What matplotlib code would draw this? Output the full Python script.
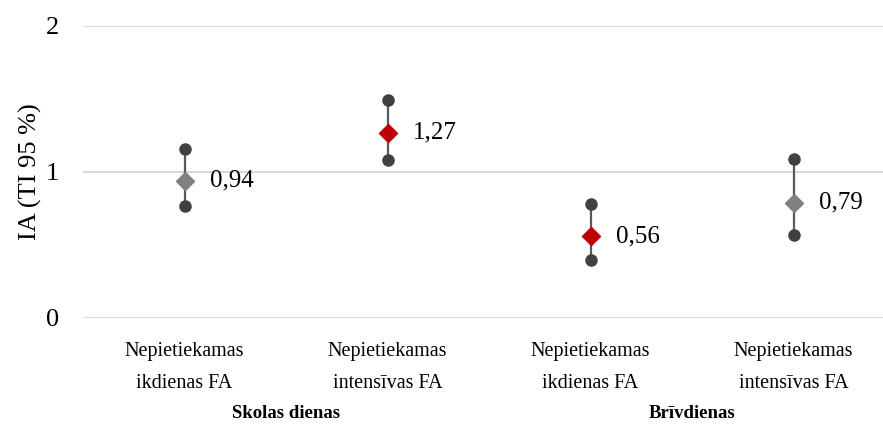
import numpy as np
from matplotlib import pyplot as plt
from matplotlib.transforms import offset_copy

categories = ["Nepietiekamas\nikdienas FA", "Nepietiekamas\nintensīvas FA",
              "Nepietiekamas\nikdienas FA", "Nepietiekamas\nintensīvas FA"]
groups = ["Skolas dienas", "Brīvdienas"]
ia = [0.94, 1.27, 0.56, 0.79]
ci_low = [0.77, 1.08, 0.40, 0.57]
ci_high = [1.16, 1.49, 0.78, 1.09]
point_colors = ["#808080", "#C00000", "#C00000", "#808080"]
labels = ["0,94", "1,27", "0,56", "0,79"]

plt.rcParams["font.family"] = ["Liberation Serif", "DejaVu Serif"]

W, H = 883, 430
fig = plt.figure(figsize=(W / 100, H / 100), dpi=100)
ax = fig.add_axes([83 / W, (H - 318) / H, (W - 83) / W, 292 / H])

x = np.arange(len(ia))
for xi, lo, hi, m, c, lab in zip(x, ci_low, ci_high, ia, point_colors, labels):
    ax.plot([xi, xi], [lo, hi], c="#595959", lw=1.6, zorder=2)
    ax.plot([xi, xi], [lo, hi], "o", c="#404040", ms=8, zorder=3)
    ax.plot(xi, m, "D", c=c, ms=9.5, zorder=4)
    tr = offset_copy(ax.transData, fig=fig, x=25, y=0, units="dots")
    ax.text(xi, m, lab, transform=tr, fontsize=18, va="center", ha="left")

ax.set_ylim(0, 2)
ax.set_xlim(-0.5, 3.44)
ax.set_yticks([0, 1, 2])
ax.set_yticklabels(["0", "1", "2"], fontsize=19)
ax.set_xticks(x)
ax.set_xticklabels(categories, fontsize=14.5, linespacing=1.95)
ax.tick_params(axis="both", length=0)
ax.tick_params(axis="x", pad=17)
ax.tick_params(axis="y", pad=17)
ax.grid(axis="y", color="#D9D9D9", lw=1.4)
ax.set_axisbelow(True)
for s in ax.spines.values():
    s.set_visible(False)

ax.set_ylabel("IA (TI 95 %)", fontsize=19, labelpad=3)

# group labels under the category labels
grp_tr = offset_copy(ax.get_xaxis_transform(), fig=fig, x=0, y=-96, units="dots")
for i, g in enumerate(groups):
    xc = (x[2 * i] + x[2 * i + 1]) / 2
    ax.text(xc, 0, g, transform=grp_tr, fontsize=13.5,
            fontweight="bold", ha="center", va="center")

fig.savefig("out.png", dpi=100)
